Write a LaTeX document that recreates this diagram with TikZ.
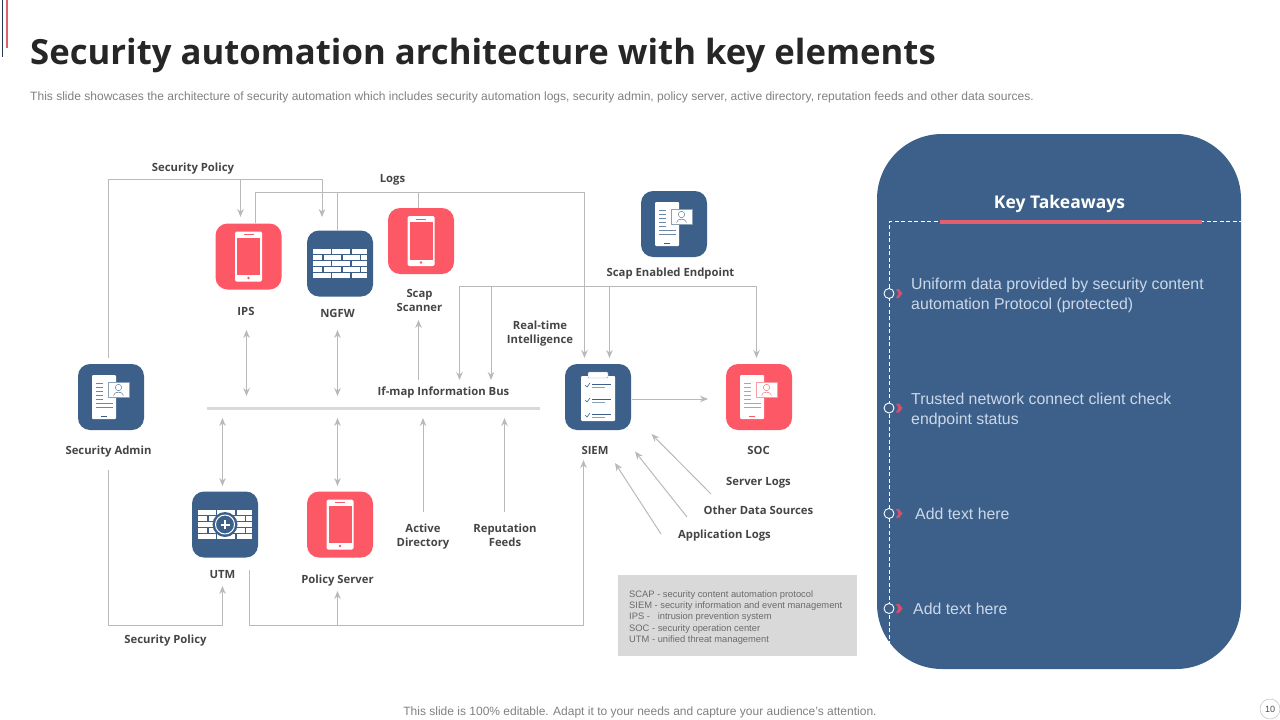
\documentclass[tikz,border=0pt]{standalone}
\usepackage{fontspec}
\setmainfont{Liberation Sans}
\newfontfamily\headfont{Open Sans}
\usepackage{xcolor}
\usetikzlibrary{arrows.meta}
\definecolor{navy}{HTML}{3C6089}
\definecolor{coral}{HTML}{FD5865}
\definecolor{wire}{HTML}{B9B9B9}
\definecolor{busgrey}{HTML}{D9D9D9}
\definecolor{inktext}{HTML}{454545}
\definecolor{paletext}{HTML}{CCD8EA}
\definecolor{barred}{HTML}{E0606F}
\definecolor{chevred}{HTML}{D24F70}
\tikzset{
  every picture/.style={line join=round, >={Stealth[length=8pt,width=6.5pt]}},
  tile/.style={minimum size=66pt, inner sep=0pt, rounded corners=12pt},
  navytile/.style={tile, fill=navy},
  coraltile/.style={tile, fill=coral},
  lbl/.style={font=\headfont\bfseries\fontsize{11.3}{14}\selectfont, text=inktext, align=center, inner sep=0pt},
  wireline/.style={draw=wire, line width=1pt},
  keytext/.style={font=\fontsize{15.85}{19.5}\selectfont, text=paletext, anchor=west, inner sep=0pt},
  ringdot/.style={circle, draw=white, fill=navy, line width=0.9pt, minimum size=10pt, inner sep=0pt},
  pics/phoneicon/.style={code={
    \fill[white, rounded corners=1.5pt] (-13.5,-25) rectangle (13.5,25);
    \fill[#1] (-11.5,-19) rectangle (11.5,18.5);
    \fill[#1] (-5,-22.3) rectangle (5,-21.3);
    \fill[#1] (0,21.5) circle (1.3);
  }},
  pics/bricks/.style={code={
    \foreach \r in {0,2,4} {
      \fill[white] (-27,{-14.6+\r*6}) rectangle (-9.5,{-9.6+\r*6});
      \fill[white] (-8,{-14.6+\r*6}) rectangle (10,{-9.6+\r*6});
      \fill[white] (11.5,{-14.6+\r*6}) rectangle (27,{-9.6+\r*6});
    }
    \foreach \r in {1,3} {
      \fill[white] (-27,{-14.6+\r*6}) rectangle (-18,{-9.6+\r*6});
      \fill[white] (-16.5,{-14.6+\r*6}) rectangle (1,{-9.6+\r*6});
      \fill[white] (2.5,{-14.6+\r*6}) rectangle (19.5,{-9.6+\r*6});
      \fill[white] (21,{-14.6+\r*6}) rectangle (27,{-9.6+\r*6});
    }
  }},
  pics/docicon/.style={code={
    \fill[white, rounded corners=1pt] (-19,-22) rectangle (5,22);
    \foreach \ly/\lx in {-14/-8,-10/-8,-6/-8,-2/-8,2/-8,6/2,10/2} {
      \draw[#1!75, line width=0.6pt] (-15,\ly) -- (\lx,\ly);
    }
    \draw[#1, line width=1pt] (-10,19.5) -- (-4,19.5);
    \fill[white, draw=#1!60, line width=0.4pt] (-3,-15) rectangle (18,0);
    \draw[#1, line width=0.4pt] (7.5,-9.5) circle (3.2);
    \draw[#1, line width=0.4pt] (2.5,-1.5) .. controls (3,-6) and (12,-6) .. (12.5,-1.5);
  }},
  pics/clipicon/.style={code={
    \fill[white, rounded corners=1pt] (-17,-21) rectangle (17,24);
    \fill[white, draw=navy!60, line width=0.4pt, rounded corners=1pt] (-10,-25) rectangle (10,-19);
    \foreach \ly in {-12,3,18} {
      \draw[navy, line width=0.6pt] (-13,\ly) -- (-11,{\ly+2}) -- (-8,{\ly-2});
      \draw[navy, line width=0.8pt] (-6,{\ly-1}) -- (13,{\ly-1});
      \draw[navy!60, line width=0.7pt] (-6,{\ly+2}) -- (7,{\ly+2});
    }
  }},
  pics/plusring/.style={code={
    \fill[navy] (0,0) circle (12.5);
    \draw[white, line width=1pt] (0,0) circle (9.5);
    \draw[white, line width=2pt] (-4.5,0) -- (4.5,0) (0,-4.5) -- (0,4.5);
  }},
  pics/chevron/.style={code={
    \fill[chevred] (-3,-4.5) -- (0,-4.5) -- (3.5,0) -- (0,4.5) -- (-3,4.5) -- (-0.5,0) -- cycle;
  }},
}
\begin{document}
\begin{tikzpicture}[x=1pt,y=-1pt]
\useasboundingbox (0,0) rectangle (1280,720);
% header
\fill[navy!60!black] (2,0) rectangle (3,57);
\fill[barred] (6,0) rectangle (7.5,48);
\node[anchor=west, inner sep=0pt, font=\headfont\bfseries\fontsize{34.7}{40}\selectfont, text=black!85] (title) at (30,55) {Security automation architecture with key elements};
\node[anchor=west, inner sep=0pt, font=\fontsize{12.04}{14}\selectfont, text=black!50] (subtitle) at (30,97) {This slide showcases the architecture of security automation which includes security automation logs, security admin, policy server, active directory, reputation feeds and other data sources.};
% tiles
\node[coraltile] (ips) at (248.5,256.5) {};
\node[navytile] (ngfw) at (340,263.5) {};
\node[coraltile] (scanner) at (421,241) {};
\node[navytile] (admin) at (111,397) {};
\node[navytile] (endpoint) at (674,224) {};
\node[navytile] (siem) at (598,397) {};
\node[coraltile] (soc) at (759,397) {};
\node[navytile] (utm) at (225,524.5) {};
\node[coraltile] (policy) at (340,524.5) {};
\pic at (ips) {phoneicon=coral};
\pic at (ngfw) {bricks};
\pic at (scanner) {phoneicon=coral};
\pic at (admin) {docicon=navy};
\pic at (endpoint) {docicon=navy};
\pic at (siem) {clipicon};
\pic at (soc) {docicon=coral};
\pic at (utm) {bricks};
\pic at (utm) {plusring};
\pic at (policy) {phoneicon=coral};
% labels
\node[lbl] (lsecpol) at (193,169) {Security Policy};
\node[lbl] (llogs) at (392.5,180) {Logs};
\node[lbl] (lips) at (246,311) {IPS};
\node[lbl] (lngfw) at (337.5,313) {NGFW};
\node[lbl] (lscanner) at (419.5,300) {Scap\\Scanner};
\node[lbl] (lendpoint) at (670.5,274) {Scap Enabled Endpoint};
\node[lbl] (lrealtime) at (540,334) {Real-time\\Intelligence};
\node[lbl] (lbus) at (443.5,393) {If-map Information Bus};
\node[lbl] (ladmin) at (108.5,452) {Security Admin};
\node[lbl] (lsiem) at (595,450) {SIEM};
\node[lbl] (lsoc) at (758.5,450) {SOC};
\node[lbl] (lserver) at (758.5,483) {Server Logs};
\node[lbl] (lother) at (758.5,510) {Other Data Sources};
\node[lbl] (lapp) at (724.5,536) {Application Logs};
\node[lbl] (ldirectory) at (423,537) {Active\\Directory};
\node[lbl] (lfeeds) at (505,535) {Reputation\\Feeds};
\node[lbl] (lutm) at (222.5,575) {UTM};
\node[lbl] (lpolicy) at (337.5,581) {Policy Server};
\node[lbl] (lsecpolb) at (165.5,641) {Security Policy};
% bus
\coordinate (busw) at (207,408);
\coordinate (buse) at (540,408);
\draw[busgrey, line width=3pt] (busw) -- (buse);
% security policy, top
\coordinate (sp0) at (108.5,358);
\coordinate (sp1) at (108.5,179.5);
\coordinate (sp2) at (322,179.5);
\coordinate (sp3) at (322,217);
\coordinate (sp4) at (240.5,179.5);
\coordinate (sp5) at (240.5,217);
\draw[wireline,->] (sp0) -- (sp1) -- (sp2) -- (sp3);
\draw[wireline,->] (sp4) -- (sp5);
% logs
\coordinate (lg0) at (255,223);
\coordinate (lg1) at (255,192);
\coordinate (lg2) at (584.5,192);
\coordinate (lg3) at (584.5,358);
\coordinate (lg4) at (337.5,230);
\coordinate (lg5) at (337.5,192);
\coordinate (lg6) at (418.5,208);
\coordinate (lg7) at (418.5,192);
\draw[wireline,->] (lg0) -- (lg1) -- (lg2) -- (lg3);
\draw[wireline] (lg4) -- (lg5) (lg6) -- (lg7);
% real-time
\coordinate (rt0) at (459.5,380);
\coordinate (rt1) at (459.5,286.5);
\coordinate (rt2) at (756.5,286.5);
\coordinate (rt3) at (756.5,358);
\coordinate (rt4) at (491,286.5);
\coordinate (rt5) at (491,380);
\coordinate (rt6) at (609.5,286.5);
\coordinate (rt7) at (609.5,358);
\draw[wireline,<->] (rt0) -- (rt1) -- (rt2) -- (rt3);
\draw[wireline,->] (rt4) -- (rt5);
\draw[wireline,->] (rt6) -- (rt7);
% bus stubs
\foreach \nm/\xa/\ya/\yb/\tip in {a/246.5/330/396/<->, b/337.5/330/396/<->, c/418.5/380/320/->, d/222.5/418/486/<->, e/337.5/418/486/<->, f/423/512/418/->, g/504.5/512/418/->} {
  \coordinate (st\nm0) at (\xa,\ya);
  \coordinate (st\nm1) at (\xa,\yb);
  \draw[wireline,\tip] (st\nm0) -- (st\nm1);
}
% security policy, bottom
\coordinate (sb0) at (108.5,470);
\coordinate (sb1) at (108.5,625);
\coordinate (sb2) at (222.5,625);
\coordinate (sb3) at (222.5,586);
\draw[wireline,->] (sb0) -- (sb1) -- (sb2) -- (sb3);
\coordinate (pb0) at (249.5,570);
\coordinate (pb1) at (249.5,625);
\coordinate (pb2) at (583.5,625);
\coordinate (pb3) at (583.5,460);
\coordinate (pb4) at (337.5,625);
\coordinate (pb5) at (337.5,591);
\draw[wireline,->] (pb0) -- (pb1) -- (pb2) -- (pb3);
\draw[wireline,->] (pb4) -- (pb5);
% siem side
\coordinate (se0) at (632,399);
\coordinate (se1) at (708,399);
\draw[wireline,->] (se0) -- (se1);
\coordinate (dg1a) at (711,494);
\coordinate (dg1b) at (651.5,434);
\coordinate (dg2a) at (687,517);
\coordinate (dg2b) at (635,451.5);
\coordinate (dg3a) at (661,534);
\coordinate (dg3b) at (615,463);
\draw[wireline,->] (dg1a) -- (dg1b);
\draw[wireline,->] (dg2a) -- (dg2b);
\draw[wireline,->] (dg3a) -- (dg3b);
% legend
\fill[busgrey] (618,575) rectangle (857,656);
\node[anchor=north west, inner sep=0pt, align=left, font=\fontsize{9.35}{11.25}\selectfont, text=black!58] (legend) at (629,590.5) {SCAP - security content automation protocol\\SIEM - security information and event management\\IPS -\ \ \ intrusion prevention system\\SOC - security operation center\\UTM - unified threat management};
% key takeaways
\fill[navy, rounded corners=65pt] (877,134) rectangle (1241,669);
\node[inner sep=0pt, font=\headfont\bfseries\fontsize{17.5}{21}\selectfont, text=white] (keyhead) at (1059.5,204) {Key Takeaways};
\coordinate (ka) at (889.5,645);
\coordinate (kb) at (889.5,221);
\coordinate (kc) at (1241,221);
\draw[white, line width=0.7pt, dash pattern=on 4pt off 2.5pt] (ka) -- (kb) -- (kc);
\coordinate (ra) at (940,222);
\coordinate (rb) at (1202,222);
\draw[barred, line width=4pt] (ra) -- (rb);
\foreach \nm/\yy in {a/293.5,b/408,c/513.5,d/608.5} {
  \node[ringdot] (ring\nm) at (889,\yy) {};
  \pic at (899,\yy) {chevron};
}
\node[keytext, align=left] (kt1) at (911,295.5) {Uniform data provided by security content\\automation Protocol (protected)};
\node[keytext, align=left] (kt2) at (911,410.5) {Trusted network connect client check\\endpoint status};
\node[keytext] (kt3) at (915,513.5) {Add text here};
\node[keytext] (kt4) at (913,608.5) {Add text here};
% footer
\node[inner sep=0pt, font=\fontsize{12}{14}\selectfont, text=black!50] (footer) at (640,712) {This slide is 100\% editable. Adapt it to your needs and capture your audience's attention.};
\node[circle, draw=black!25, line width=0.5pt, minimum size=20pt, inner sep=0pt, font=\fontsize{9}{10}\selectfont, text=black!70] (pageno) at (1270,709) {10};
\end{tikzpicture}
\end{document}
